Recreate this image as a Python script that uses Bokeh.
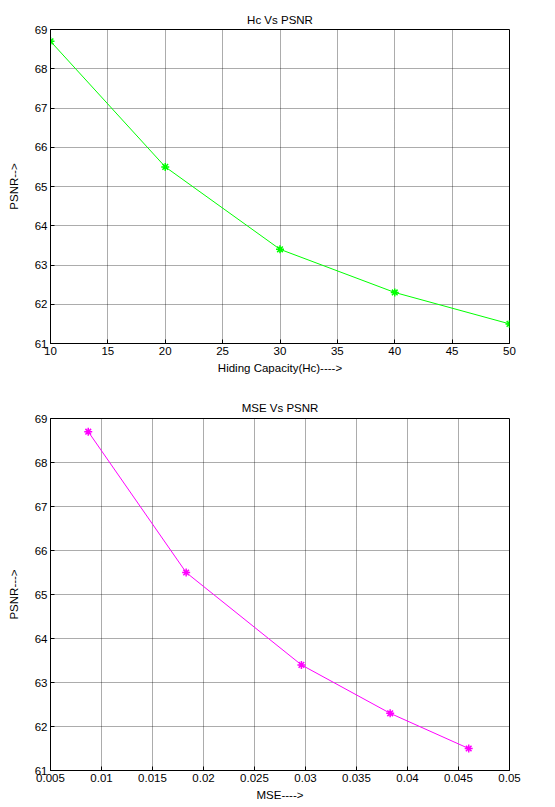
from bokeh.plotting import figure
from bokeh.layouts import column
from bokeh.models import FixedTicker, Range1d
from bokeh.embed import file_html
from bokeh.resources import INLINE

# Data
hc = [10, 20, 30, 40, 50]
psnr = [68.7, 65.5, 63.4, 62.3, 61.5]
mse = [0.0087, 0.0183, 0.0296, 0.0383, 0.0460]

hc_ticks = [10, 15, 20, 25, 30, 35, 40, 45, 50]
psnr_ticks = [61, 62, 63, 64, 65, 66, 67, 68, 69]
mse_ticks = [0.005, 0.01, 0.015, 0.02, 0.025, 0.03, 0.035, 0.04, 0.045, 0.05]
mse_tick_labels = ["0.005", "0.01", "0.015", "0.02", "0.025", "0.03", "0.035", "0.04", "0.045", "0.05"]

FONT = "Liberation Sans"
FS = "11.5px"


def style(p, xticks, yticks, xlabel, ylabel, xlabels=None):
    p.title.text_font = FONT
    p.title.text_font_size = FS
    p.title.text_font_style = "normal"
    p.title.text_color = "black"
    p.title.align = "center"
    p.outline_line_color = "black"
    p.outline_line_width = 1
    p.outline_line_alpha = 1
    p.background_fill_color = "white"
    p.border_fill_color = "white"
    p.xaxis.ticker = FixedTicker(ticks=xticks)
    p.yaxis.ticker = FixedTicker(ticks=yticks)
    if xlabels is not None:
        p.xaxis.major_label_overrides = {t: l for t, l in zip(xticks, xlabels)}
    p.xaxis.axis_label = xlabel
    p.yaxis.axis_label = ylabel
    for ax in (p.xaxis, p.yaxis):
        ax.axis_label_text_font = FONT
        ax.axis_label_text_font_size = FS
        ax.axis_label_text_font_style = "normal"
        ax.axis_label_text_color = "black"
        ax.major_label_text_font = FONT
        ax.major_label_text_font_size = FS
        ax.major_label_text_color = "black"
        ax.axis_line_color = "black"
        ax.major_tick_line_color = "black"
        ax.major_tick_in = 4
        ax.major_tick_out = 0
        ax.minor_tick_line_color = None
        ax.major_label_standoff = 3
    p.xaxis.axis_label_standoff = 4
    p.yaxis.axis_label_standoff = 12
    for g in (p.xgrid, p.ygrid):
        g.grid_line_color = "black"
        g.grid_line_alpha = 0.65
        g.grid_line_dash = "1 1"
        g.grid_line_width = 1


p1 = figure(width=547, height=376, title="Hc Vs PSNR",
            x_range=Range1d(10, 50), y_range=Range1d(61, 69),
            toolbar_location=None, output_backend="svg",
            min_border_left=50, min_border_right=38, min_border_top=29, min_border_bottom=10)
style(p1, hc_ticks, psnr_ticks, "Hiding Capacity(Hc)---->", "PSNR-->")
p1.title.standoff = 8
p1.line(hc, psnr, line_color="#00ff00", line_width=1)
p1.scatter(hc, psnr, marker="asterisk", size=8, line_color="#00ff00", line_width=1.5)

p2 = figure(width=547, height=427, title="MSE Vs PSNR",
            x_range=Range1d(0.005, 0.05), y_range=Range1d(61, 69),
            toolbar_location=None, output_backend="svg",
            min_border_left=50, min_border_right=38, min_border_top=42, min_border_bottom=10)
style(p2, mse_ticks, psnr_ticks, "MSE---->", "PSNR--->", mse_tick_labels)
p2.title.standoff = 10
p2.line(mse, psnr, line_color="#ff00ff", line_width=1)
p2.scatter(mse, psnr, marker="asterisk", size=8, line_color="#ff00ff", line_width=1.5)

layout = column(p1, p2)
open("out.html", "w").write(file_html(layout, INLINE))
